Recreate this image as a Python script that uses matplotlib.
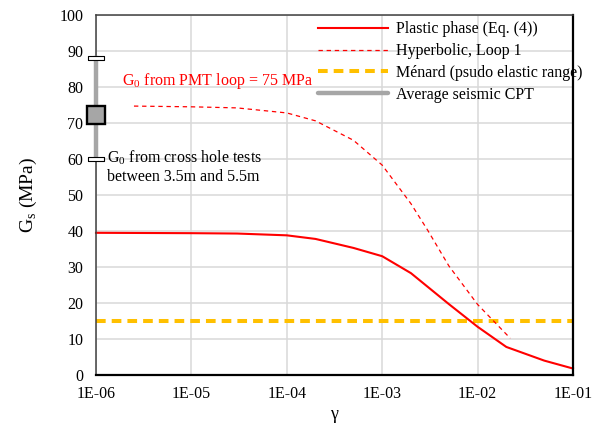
import matplotlib
matplotlib.use("Agg")
import matplotlib.pyplot as plt
from matplotlib.lines import Line2D
import numpy as np

plt.rcParams['font.family'] = ['Liberation Serif', 'DejaVu Serif']
plt.rcParams['mathtext.fontset'] = 'custom'
plt.rcParams['mathtext.rm'] = 'Liberation Serif'

# plastic phase (Eq. (4))
plastic_gamma = [1e-6, 1e-5, 3e-5, 1e-4, 2e-4, 5e-4, 1e-3, 2e-3, 5e-3, 1e-2, 2e-2, 5e-2, 1e-1]
plastic_g = [39.5, 39.4, 39.3, 38.8, 37.8, 35.3, 33.0, 28.3, 19.7, 13.4, 7.8, 4.0, 1.8]

# hyperbolic, loop 1
hyper_gamma = [2.5e-6, 1e-5, 3e-5, 1e-4, 2e-4, 5e-4, 1e-3, 2e-3, 3e-3, 5e-3, 1e-2, 2.2e-2]
hyper_g = [74.7, 74.5, 74.2, 72.8, 70.6, 65.2, 58.3, 47.6, 40.2, 30.3, 19.6, 10.2]

# menard pseudo elastic
menard_gamma = [1e-6, 1e-1]
menard_g = [15, 15]

# seismic CPT / cross hole
cpt_gamma = 1e-6
cpt_mean = 72.1
cpt_low = 60.0
cpt_high = 88.0

xticks = [1e-6, 1e-5, 1e-4, 1e-3, 1e-2, 1e-1]
xticklabels = ["1E-06", "1E-05", "1E-04", "1E-03", "1E-02", "1E-01"]
yticks = np.arange(0, 101, 10)

fig = plt.figure(figsize=(6, 4.25), dpi=100)
ax = fig.add_axes([0.16, 0.1176, 0.795, 0.8471])

ax.set_xscale("log")
ax.set_xlim(1e-6, 1e-1)
ax.set_ylim(0, 100)
ax.set_xticks(xticks)
ax.set_xticklabels(xticklabels)
ax.set_yticks(yticks)
ax.minorticks_off()
ax.tick_params(length=0, labelsize=11.5)
ax.tick_params(axis="y", pad=9)
ax.tick_params(axis="x", pad=8)
ax.grid(True, color="#d9d9d9", lw=1.1)
ax.set_axisbelow(True)
for s in ["left", "top"]:
    ax.spines[s].set_color("#404040")
    ax.spines[s].set_linewidth(1.1)
for s in ["bottom", "right"]:
    ax.spines[s].set_color("black")
    ax.spines[s].set_linewidth(1.6)

ax.plot(menard_gamma, menard_g, color="#ffc000", lw=2.9, dashes=(2.4, 1.5), clip_on=False)
ax.plot(plastic_gamma, plastic_g, color="#ff0000", lw=1.5, clip_on=False)
ax.plot(hyper_gamma, hyper_g, color="#ff0000", lw=0.9, dashes=(3.5, 3))

# error bar on the axis
ax.plot([cpt_gamma, cpt_gamma], [cpt_low, cpt_high], color="#a6a6a6", lw=3.2, clip_on=False, zorder=5)
cap = [(-1, -0.27), (1, -0.27), (1, 0.27), (-1, 0.27), (-1, -0.27)]
ax.plot([cpt_gamma, cpt_gamma], [cpt_low, cpt_high], ls="none", marker=cap, ms=11,
        mfc="white", mec="black", mew=0.8, clip_on=False, zorder=6)
ax.plot([cpt_gamma], [cpt_mean], ls="none", marker="s", ms=13.5, mfc="#a6a6a6",
        mec="black", mew=1.7, clip_on=False, zorder=7)

ax.text(1.87e-6, 81.7, "G$_\\mathregular{0}$ from PMT loop = 75 MPa", color="#ff0000",
        fontsize=11.5, va="center", ha="left")
ax.text(1.3e-6, 60.3, "G$_\\mathregular{0}$ from cross hole tests", color="black",
        fontsize=11.5, va="center", ha="left")
ax.text(1.3e-6, 54.9, "between 3.5m and 5.5m", color="black",
        fontsize=11.5, va="center", ha="left")

ax.set_ylabel("G$_\\mathregular{s}$ (MPa)", fontsize=14, labelpad=15)
ax.set_xlabel("\u03b3", fontsize=13, labelpad=3)

handles = [
    Line2D([], [], color="#ff0000", lw=1.5),
    Line2D([], [], color="#ff0000", lw=0.9, dashes=(3.5, 3)),
    Line2D([], [], color="#ffc000", lw=2.9, dashes=(2.4, 1.5)),
    Line2D([], [], color="#a6a6a6", lw=3.2, solid_capstyle="round"),
]
labels = ["Plastic phase (Eq. (4))", "Hyperbolic, Loop 1",
          "Ménard (psudo elastic range)", "Average seismic CPT"]
fig.legend(handles, labels, loc="upper left", bbox_to_anchor=(0.53, 0.95),
           frameon=False, fontsize=11.5, handlelength=4.4, handletextpad=0.5,
           labelspacing=0.37, borderpad=0, borderaxespad=0)

fig.savefig("out.png", dpi=100)
